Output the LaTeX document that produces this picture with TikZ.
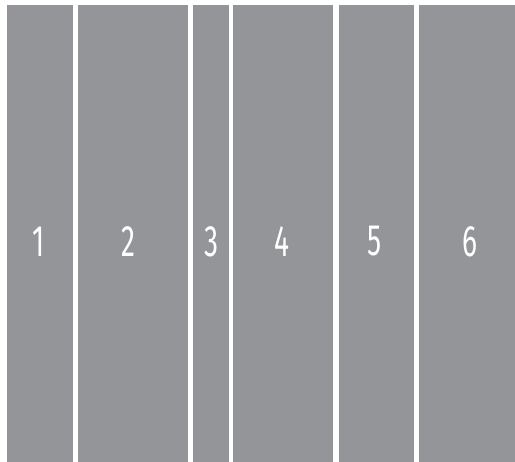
\documentclass[tikz,border=0pt]{standalone}
\usepackage{fontspec}
\setmainfont{Fira Sans}
\definecolor{bargray}{HTML}{939598}
\begin{document}
\begin{tikzpicture}[x=1pt,y=-1pt,
  bar/.style={fill=bargray,draw=none},
  lbl/.style={text=white,inner sep=0pt,font=\fontsize{44}{44}\selectfont}]
\useasboundingbox (0,0) rectangle (515,462);
\fill[white] (0,0) rectangle (515,462);
\path[bar] (7,5) rectangle (73,462);
\path[bar] (78,5) rectangle (188,462);
\path[bar] (193,5) rectangle (229,462);
\path[bar] (233,5) rectangle (333,462);
\path[bar] (339,5) rectangle (414,462);
\path[bar] (419,5) rectangle (515,462);
\node[lbl] (l1) at (38.5,241.5) {\scalebox{0.64}[1]{1}};
\node[lbl] (l2) at (128.5,241.5) {\scalebox{0.64}[1]{2}};
\node[lbl] (l3) at (211.5,241.5) {\scalebox{0.64}[1]{3}};
\node[lbl] (l4) at (282,241.5) {\scalebox{0.64}[1]{4}};
\node[lbl] (l5) at (374.5,241.5) {\scalebox{0.64}[1]{5}};
\node[lbl] (l6) at (470,241.5) {\scalebox{0.64}[1]{6}};
\end{tikzpicture}
\end{document}
